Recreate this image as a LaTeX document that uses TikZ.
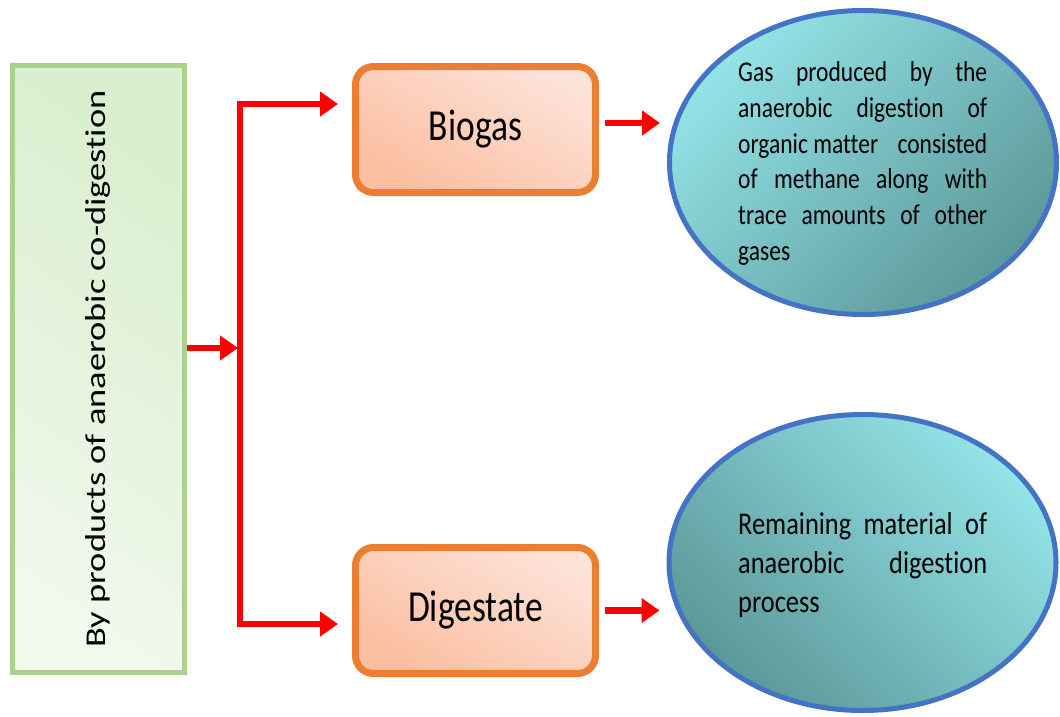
\documentclass[tikz,border=0pt]{standalone}
\usepackage{fontspec}
\usepackage{graphicx}
\setmainfont{Carlito}[Ligatures=NoCommon, RawFeature={-calt}]
\usetikzlibrary{arrows.meta,shapes.geometric}

\definecolor{leafgreen}{HTML}{A9D18E}
\definecolor{greenlight}{HTML}{F1F8EC}
\definecolor{greendark}{HTML}{D9EFCE}
\definecolor{orangeline}{HTML}{ED7D31}
\definecolor{peachlight}{HTML}{FDE2D8}
\definecolor{peachdark}{HTML}{FBBEA0}
\definecolor{linkred}{HTML}{FF0000}
\definecolor{blueline}{HTML}{4472C4}
\definecolor{cyanlight}{HTML}{93E3E7}
\definecolor{cyandark}{HTML}{5C9899}

\begin{document}
\begin{tikzpicture}[x=1pt,y=-1pt,
  catbox/.style={draw=leafgreen, line width=5pt, minimum width=172pt,
    minimum height=607pt, inner sep=0pt,
    top color=greendark, bottom color=greenlight, shading angle=-35},
  prodbox/.style={draw=orangeline, line width=7pt, rounded corners=18pt,
    minimum width=240pt, minimum height=126pt, inner sep=0pt,
    top color=peachlight, bottom color=peachdark, shading angle=-30,
    font=\fontsize{35.5}{42}\selectfont},
  infoellipse/.style={ellipse, draw=blueline, line width=5pt,
    minimum width=387pt, inner sep=0pt},
  infotext/.style={anchor=base west, inner sep=0pt},
  link/.style={draw=linkred, line width=6pt},
  linkarrow/.style={link, -{Triangle[length=18pt,width=24pt]}},
]
\useasboundingbox (0,0) rectangle (1060,716);

% category box on the left
\node[catbox] (lbox) at (98.5,369) {};
\node[rotate=90] (cattext) at (lbox.center)
  {\scalebox{1.27}[1]{\fontsize{28.7}{34}\selectfont By products of anaerobic co-digestion}};

% product boxes
\node[prodbox] (biogas) at (475.5,129.5) {\scalebox{1}[1.25]{Biogas}};
\node[prodbox] (digestate) at (475.5,610.5) {\scalebox{1}[1.25]{Digestate}};

% description ellipses
\node[infoellipse, minimum height=304pt,
  top color=cyanlight, bottom color=cyandark, shading angle=45]
  (gasinfo) at (863,162.5) {};
\node[infoellipse, minimum height=296pt,
  top color=cyanlight, bottom color=cyandark, shading angle=-45]
  (diginfo) at (862.5,562.5) {};

\node[infotext] (gastext) at (738,260) {\fontsize{23.5}{29.2}\selectfont
  \scalebox{1}[1.22]{\vbox{%
    \hbox to 249pt{Gas\hfill produced\hfill by\hfill the}
    \hbox to 249pt{anaerobic\hfill digestion\hfill of}
    \hbox to 249pt{organic matter\hfill consisted}
    \hbox to 249pt{of\hfill methane\hfill along\hfill with}
    \hbox to 249pt{trace\hfill amounts\hfill of\hfill other}
    \hbox to 249pt{gases\hfill}}}};

\node[infotext] (digtext) at (738,612) {\fontsize{26.4}{32.5}\selectfont
  \scalebox{1}[1.2]{\vbox{%
    \hbox to 249pt{Remaining\hfill material\hfill of}
    \hbox to 249pt{anaerobic\hfill digestion}
    \hbox to 249pt{process\hfill}}}};

% branching connectors
\coordinate (jn) at (240,348);
\draw[linkarrow, shorten >=2pt] ([yshift=21pt]lbox.east) -- (jn);
\draw[linkarrow, shorten >=14pt] (jn) |- ([yshift=25.5pt]biogas.west);
\draw[linkarrow, shorten >=14pt] (jn) |- ([yshift=-13.5pt]digestate.west);

% product to description arrows
\draw[linkarrow, line width=6.5pt, shorten <=6pt, shorten >=7pt]
  ([yshift=6.5pt]biogas.east) -- ([yshift=6.5pt]biogas.east -| gasinfo.west);
\draw[linkarrow, line width=6.5pt, shorten <=6pt, shorten >=7pt]
  (digestate.east) -- (digestate.east -| diginfo.west);
\end{tikzpicture}
\end{document}
